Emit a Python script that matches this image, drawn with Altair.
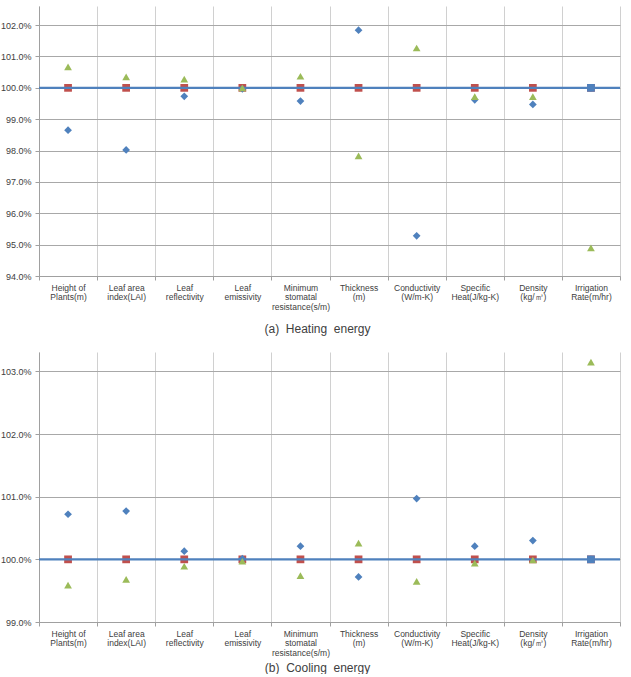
import json
import altair as alt
import pandas as pd

# ---------------- data ----------------
categories = [
    "Height of|Plants(m)",
    "Leaf area|index(LAI)",
    "Leaf|reflectivity",
    "Leaf|emissivity",
    "Minimum|stomatal|resistance(s/m)",
    "Thickness|(m)",
    "Conductivity|(W/m-K)",
    "Specific|Heat(J/kg-K)",
    "Density|(kg/㎥)",
    "Irrigation|Rate(m/hr)",
]

heat_blue = [0.9865, 0.9802, 0.9973, 0.9997, 0.9958, 1.0184, 0.9528, 0.9962, 0.9947, 1.0000]
heat_red = [1.0, 1.0, 1.0, 1.0, 1.0, 1.0, 1.0, 1.0, 1.0, 1.0]
heat_green = [1.0067, 1.0035, 1.0028, 1.0000, 1.0037, 0.9783, 1.0127, 0.9972, 0.9972, 0.9490]

cool_blue = [1.0072, 1.0077, 1.0013, 1.0001, 1.0021, 0.9972, 1.0097, 1.0021, 1.0030, 1.0000]
cool_red = [1.0, 1.0, 1.0, 1.0, 1.0, 1.0, 1.0, 1.0, 1.0, 1.0]
cool_green = [0.9959, 0.9968, 0.9989, 0.9997, 0.9974, 1.0026, 0.9965, 0.9994, 0.9999, 1.0315]

baseline = 1.0

heat_ticks = [0.94, 0.95, 0.96, 0.97, 0.98, 0.99, 1.00, 1.01, 1.02]
cool_ticks = [0.99, 1.00, 1.01, 1.02, 1.03]

BLUE = "#4F81BD"
RED = "#C0504D"
GREEN = "#9BBB59"

n = len(categories)
x_values = [i * 0.5 for i in range(2 * n + 1)]
label_array = json.dumps(categories)
label_expr = (
    f"datum.value % 1 == 0 ? '' : split({label_array}[floor(datum.value)], '|')"
)


def make_df(blue, red, green):
    rows = []
    for i in range(n):
        pos = i + 0.5
        rows.append({"pos": pos, "series": "blue", "v": blue[i]})
        rows.append({"pos": pos, "series": "red", "v": red[i]})
        rows.append({"pos": pos, "series": "green", "v": green[i]})
    return pd.DataFrame(rows)


def panel(blue, red, green, domain, ticks, caption, title_pad):
    df = make_df(blue, red, green)
    x = alt.X(
        "pos:Q",
        scale=alt.Scale(domain=[0, n], nice=False, zero=False),
        axis=alt.Axis(
            values=x_values,
            tickCount=len(x_values) + 2,
            labelExpr=label_expr,
            title=caption,
            grid=True,
            gridColor="#d0d0d0",
            gridOpacity={"condition": {"test": "datum.value % 1 == 0", "value": 1}, "value": 0},
            tickOpacity={"condition": {"test": "datum.value % 1 == 0", "value": 1}, "value": 0},
            tickColor="#a0a0a0",
            tickSize=4,
            domainColor="#a0a0a0",
            labelFont="Liberation Sans",
            labelFontSize=8.5,
            labelColor="#404040",
            labelLineHeight=9.5,
            labelPadding=3,
            labelAngle=0,
            labelOverlap=False,
            labelFlush=False,
            titleFont="Liberation Sans",
            titleFontSize=12,
            titleFontWeight="normal",
            titleColor="#404040",
            titlePadding=title_pad,
            titleX=278,
            titleAnchor="middle",
            titleAlign="center",
        ),
    )
    y = alt.Y(
        "v:Q",
        scale=alt.Scale(domain=domain, nice=False, zero=False),
        axis=alt.Axis(
            values=ticks,
            tickCount=len(ticks) + 2,
            format=".1%",
            grid=True,
            gridColor="#a8a8a8",
            tickColor="#a0a0a0",
            tickSize=4,
            domainColor="#a0a0a0",
            labelFont="Liberation Sans",
            labelFontSize=9,
            labelColor="#404040",
            labelPadding=4,
            labelOverlap=False,
            title=None,
        ),
    )
    base = alt.Chart(df)
    rule = alt.Chart(pd.DataFrame({"v": [baseline]})).mark_rule(
        color=BLUE, strokeWidth=2.2
    ).encode(y=alt.Y("v:Q", scale=alt.Scale(domain=domain, nice=False, zero=False)))
    reds = base.transform_filter("datum.series == 'red'").mark_point(
        shape="square", filled=True, color=RED, size=60, opacity=1
    ).encode(x=x, y=y)
    blues = base.transform_filter("datum.series == 'blue'").mark_point(
        shape="diamond", filled=True, color=BLUE, size=60, opacity=1
    ).encode(x=x, y=y)
    greens = base.transform_filter("datum.series == 'green'").mark_point(
        shape="triangle-up", filled=True, color=GREEN, size=60, opacity=1
    ).encode(x=x, y=y)
    end_marker = base.transform_filter(
        f"datum.series == 'red' && datum.pos == {n - 0.5}"
    ).mark_point(shape="square", filled=True, color=BLUE, size=60, opacity=1).encode(x=x, y=y)
    return alt.layer(reds, rule, blues, greens, end_marker).properties(width=581, height=270)


top = panel(heat_blue, heat_red, heat_green, [0.94, 1.0261], heat_ticks,
            "(a)\u00a0\u00a0Heating\u00a0\u00a0energy", 13)
bottom = panel(cool_blue, cool_red, cool_green, [0.99, 1.0331], cool_ticks,
               "(b)\u00a0\u00a0Cooling\u00a0\u00a0energy", 6)

chart = alt.vconcat(top, bottom, spacing=17).properties(
    padding={"left": 0, "top": 6, "right": 9, "bottom": 0},
    background="white",
).configure_view(stroke=None)

chart.save("out.html", embed_options={"renderer": "svg", "actions": False})
